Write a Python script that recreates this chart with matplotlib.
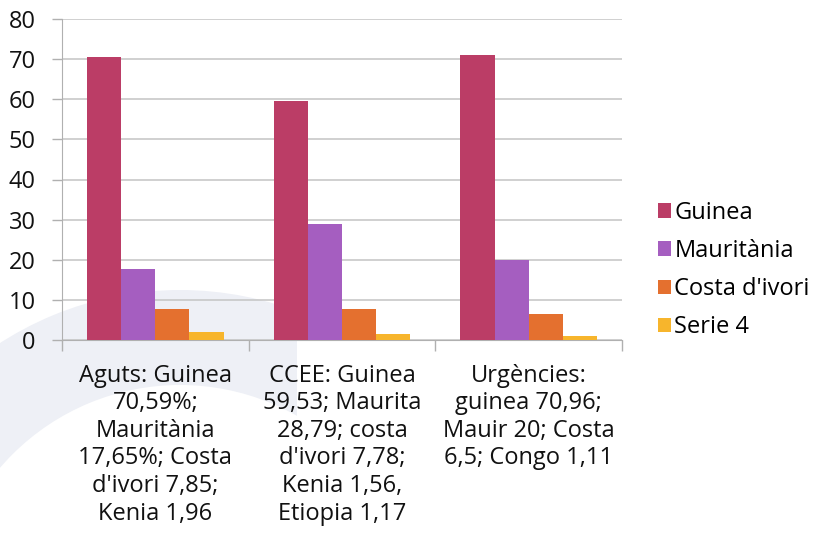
import numpy as np
import matplotlib
matplotlib.use("Agg")
import matplotlib.pyplot as plt
from matplotlib.patches import Wedge, Rectangle

categories = [
    "Aguts: Guinea\n70,59%;\nMauritània\n17,65%; Costa\nd'ivori 7,85;\nKenia 1,96",
    "CCEE: Guinea\n59,53; Maurita\n28,79; costa\nd'ivori 7,78;\nKenia 1,56,\nEtiopia 1,17",
    "Urgències:\nguinea 70,96;\nMauir 20; Costa\n6,5; Congo 1,11",
]
series_names = ["Guinea", "Mauritània", "Costa d'ivori", "Serie 4"]
guinea = [70.59, 59.53, 70.96]
mauritania = [17.65, 28.79, 20.0]
costa = [7.85, 7.78, 6.5]
serie4 = [1.96, 1.56, 1.11]
colors = ["#bb3d66", "#a55ec0", "#e4702f", "#f7b52c"]

plt.rcParams['font.family'] = ['Open Sans', 'DejaVu Sans']

fig = plt.figure(figsize=(8.13, 5.41), dpi=100)

# faint watermark arc in the background
bg = fig.add_axes([0, 0, 1, 1], zorder=0)
bg.set_xlim(0, 813)
bg.set_ylim(541, 0)
bg.axis('off')
ring = Wedge((180, 622), 332, 0, 360, width=95, facecolor="#eef0f6", edgecolor="none")
bg.add_patch(ring)
clip = Rectangle((0, 0), 297, 541, transform=bg.transData)
ring.set_clip_path(clip)

ax = fig.add_axes([62 / 813, 1 - 340 / 541, (622 - 62) / 813, (340 - 19) / 541], zorder=1)
ax.patch.set_alpha(0)

x = np.arange(len(categories))
w = 0.183
data = [guinea, mauritania, costa, serie4]
for i, (vals, name, c) in enumerate(zip(data, series_names, colors)):
    ax.bar(x + (i - 1.5) * w, vals, w, color=c, label=name, zorder=3)

ax.set_xlim(-0.5, 2.5)
ax.set_ylim(0, 80)
ax.set_yticks(range(0, 81, 10))
ax.yaxis.grid(True, color="#c4c4c4", linewidth=1.1, zorder=0)

ax.set_xticks(x)
ax.set_xticklabels(categories, fontsize=17, color="#111111", linespacing=1.2)
ax.set_xticks([-0.5, 0.5, 1.5, 2.5], minor=True)
ax.tick_params(axis='x', which='major', length=0, pad=17)
ax.tick_params(axis='x', which='minor', length=8, color="#b0b0b0", width=1)
ax.tick_params(axis='y', length=7, color="#b0b0b0", width=1, labelsize=17,
               labelcolor="#111111", pad=12)

for s in ['top', 'right']:
    ax.spines[s].set_visible(False)
ax.spines['left'].set_color("#b0b0b0")
ax.spines['bottom'].set_color("#b0b0b0")

fig.legend(loc='center left', bbox_to_anchor=(649 / 813, 1 - 270 / 541),
           frameon=False, fontsize=17, handlelength=0.55, handleheight=0.55,
           handletextpad=0.12, labelspacing=0.6, borderaxespad=0)

fig.savefig("out.png", dpi=100)
